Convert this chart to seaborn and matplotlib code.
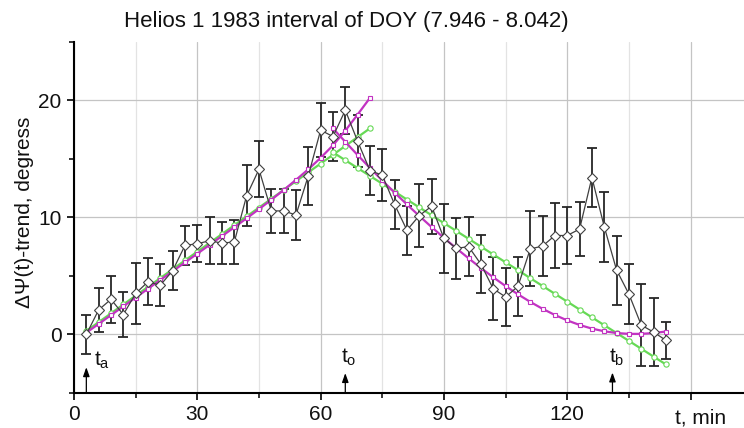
import matplotlib
matplotlib.use("Agg")
import matplotlib.pyplot as plt
import seaborn as sns
from matplotlib.ticker import FixedLocator, MultipleLocator

# ---------------- data ----------------
t_min = [3, 6, 9, 12, 15, 18, 21, 24, 27, 30, 33, 36, 39, 42, 45, 48,
         51, 54, 57, 60, 63, 66, 69, 72, 75, 78, 81, 84, 87, 90, 93, 96,
         99, 102, 105, 108, 111, 114, 117, 120, 123, 126, 129, 132, 135,
         138, 141, 144]
dpsi = [0.0, 2.1, 3.0, 1.7, 3.5, 4.5, 4.2, 5.45, 7.6, 7.75, 8.0, 7.8, 7.9,
        11.85, 14.1, 10.55, 10.55, 10.2, 13.55, 17.45, 16.9, 19.15, 16.5,
        14.0, 13.6, 11.1, 8.9, 10.15, 10.95, 8.2, 7.35, 7.5, 6.0, 3.9, 3.2,
        4.1, 7.3, 7.55, 8.45, 8.45, 9.0, 13.4, 9.2, 5.5, 3.45, 0.8, 0.2, -0.5]
dpsi_err = [1.7, 1.9, 2.0, 1.9, 2.6, 2.0, 1.8, 1.65, 1.7, 1.6, 2.0, 1.8, 1.9,
            2.6, 2.4, 1.9, 1.9, 2.1, 2.5, 2.3, 2.1, 2.0, 2.2, 2.1, 2.2, 2.1,
            2.1, 2.7, 2.35, 2.95, 2.6, 2.5, 2.5, 2.7, 2.5, 2.5, 3.2, 2.6, 2.8,
            2.4, 2.3, 2.5, 3.0, 2.95, 2.6, 3.5, 2.9, 1.6]

fit_rise_t = [3, 6, 9, 12, 15, 18, 21, 24, 27, 30, 33, 36, 39, 42, 45, 48,
              51, 54, 57, 60, 63, 66, 69, 72]
fit_rise_magenta = [0.15, 0.9, 1.65, 2.4, 3.15, 3.9, 4.65, 5.4, 6.15, 6.9,
                    7.65, 8.4, 9.15, 9.92, 10.7, 11.5, 12.33, 13.2, 14.1,
                    15.08, 16.15, 17.4, 18.78, 20.2]
fit_rise_green = [0.3, 1.05, 1.8, 2.56, 3.31, 4.06, 4.81, 5.57, 6.32, 7.07,
                  7.82, 8.57, 9.33, 10.08, 10.83, 11.58, 12.34, 13.09, 13.84,
                  14.59, 15.34, 16.1, 16.85, 17.6]

fit_fall_t = [63, 66, 69, 72, 75, 78, 81, 84, 87, 90, 93, 96, 99, 102, 105,
              108, 111, 114, 117, 120, 123, 126, 129, 132, 135, 138, 141, 144]
fit_fall_magenta = [17.6, 16.45, 15.32, 14.22, 13.15, 12.11, 11.1, 10.12,
                    9.17, 8.25, 7.36, 6.5, 5.67, 4.88, 4.13, 3.43, 2.78, 2.19,
                    1.66, 1.2, 0.81, 0.5, 0.27, 0.12, 0.05, 0.05, 0.12, 0.25]
fit_fall_green = [15.55, 14.88, 14.21, 13.54, 12.87, 12.2, 11.52, 10.85,
                  10.18, 9.51, 8.84, 8.17, 7.5, 6.83, 6.16, 5.49, 4.81, 4.14,
                  3.47, 2.8, 2.13, 1.46, 0.79, 0.12, -0.55, -1.22, -1.89, -2.56]

x_ticks = [0, 30, 60, 90, 120, 150]
x_tick_labels = ["0", "30", "60", "90", "120", ""]
y_ticks = [0, 10, 20]
y_tick_labels = ["0", "10", "20"]

event_t = [3, 66, 131]
event_labels = [r"$t_a$", r"$t_o$", r"$t_b$"]

title = "Helios 1 1983 interval of DOY (7.946 - 8.042)"
y_label = "ΔΨ(t)-trend, degress"
x_unit_label = "t, min"

# ---------------- styling ----------------
sns.set_theme(style="ticks")
plt.rcParams["font.family"] = ["Liberation Sans", "DejaVu Sans"]
plt.rcParams["mathtext.default"] = "regular"

MAGENTA = "#C233C2"
GREEN = "#66D955"
DARK = "#404040"

fig = plt.figure(figsize=(7.44, 4.28), dpi=100)
ax = fig.add_axes([74 / 744, 35 / 428, 670 / 744, 351.3 / 428])

# error bars
ax.errorbar(t_min, dpsi, yerr=dpsi_err, fmt="none", ecolor="#262626",
            elinewidth=1.3, capsize=3.5, capthick=1.3, zorder=3)

# fits
for xs, ys in [(fit_rise_t, fit_rise_green), (fit_fall_t, fit_fall_green)]:
    sns.lineplot(x=xs, y=ys, ax=ax, color=GREEN, linewidth=1.6,
                 marker="o", markersize=3.8, markerfacecolor="white",
                 markeredgecolor=GREEN, markeredgewidth=0.8, zorder=4)
for xs, ys in [(fit_rise_t, fit_rise_magenta), (fit_fall_t, fit_fall_magenta)]:
    sns.lineplot(x=xs, y=ys, ax=ax, color=MAGENTA, linewidth=1.6,
                 marker="s", markersize=3.5, markerfacecolor="white",
                 markeredgecolor=MAGENTA, markeredgewidth=0.8, zorder=4)

# data line
sns.lineplot(x=t_min, y=dpsi, ax=ax, color=DARK, linewidth=0.9,
             marker="D", markersize=4.8, markerfacecolor="white",
             markeredgecolor=DARK, markeredgewidth=0.8, zorder=5)

# axes
ax.set_xlim(0, 163)
ax.set_ylim(-5, 25)
ax.xaxis.set_major_locator(FixedLocator(x_ticks))
ax.set_xticklabels(x_tick_labels)
ax.xaxis.set_minor_locator(MultipleLocator(15))
ax.yaxis.set_major_locator(FixedLocator(y_ticks))
ax.set_yticklabels(y_tick_labels)
ax.yaxis.set_minor_locator(MultipleLocator(5))
ax.set_xlabel("")
ax.set_ylabel("")

ax.tick_params(which="major", direction="out", length=5, width=1.2,
               labelsize=15, pad=4, color="black", labelcolor="#111111",
               bottom=True, left=True)
ax.tick_params(which="minor", direction="out", length=3.5, width=1.1,
               color="black", bottom=True, left=True)

ax.grid(True, which="major", axis="both", color="#C4C4C4", linewidth=0.9)
ax.grid(True, which="minor", axis="x", color="#E3E3E3", linewidth=0.9)
ax.set_axisbelow(True)

for s in ["top", "right"]:
    ax.spines[s].set_visible(False)
for s in ["left", "bottom"]:
    ax.spines[s].set_color("black")
    ax.spines[s].set_linewidth(1.5)

# event arrows and labels
arrow_tops = [-2.8, -3.3, -3.25]
label_dx = [5.8, -2.8, -2.5]
label_y = [-2.7, -2.45, -2.45]
for t, lab, top, dx, ly in zip(event_t, event_labels, arrow_tops,
                               label_dx, label_y):
    ax.annotate("", xy=(t, top), xytext=(t, -5),
                arrowprops=dict(arrowstyle="-|>,head_length=0.45,head_width=0.16",
                                color="black", lw=0.9, shrinkA=0, shrinkB=0),
                zorder=6)
    ax.annotate(lab, xy=(t, ly), xytext=(dx, 0), textcoords="offset points",
                ha="left", va="baseline", fontsize=15, color="#111111",
                zorder=6)

fig.text(701 / 744, 1 - 423 / 428, x_unit_label, ha="center",
         va="baseline", fontsize=15, color="#111111")
fig.text(25 / 744, 1 - 212 / 428, y_label, rotation=90, ha="center",
         va="center", fontsize=15, color="#111111")
fig.text(346.5 / 744, 1 - 22 / 428, title, ha="center", va="center",
         fontsize=16, color="#111111")

fig.savefig("out.png", dpi=100)
